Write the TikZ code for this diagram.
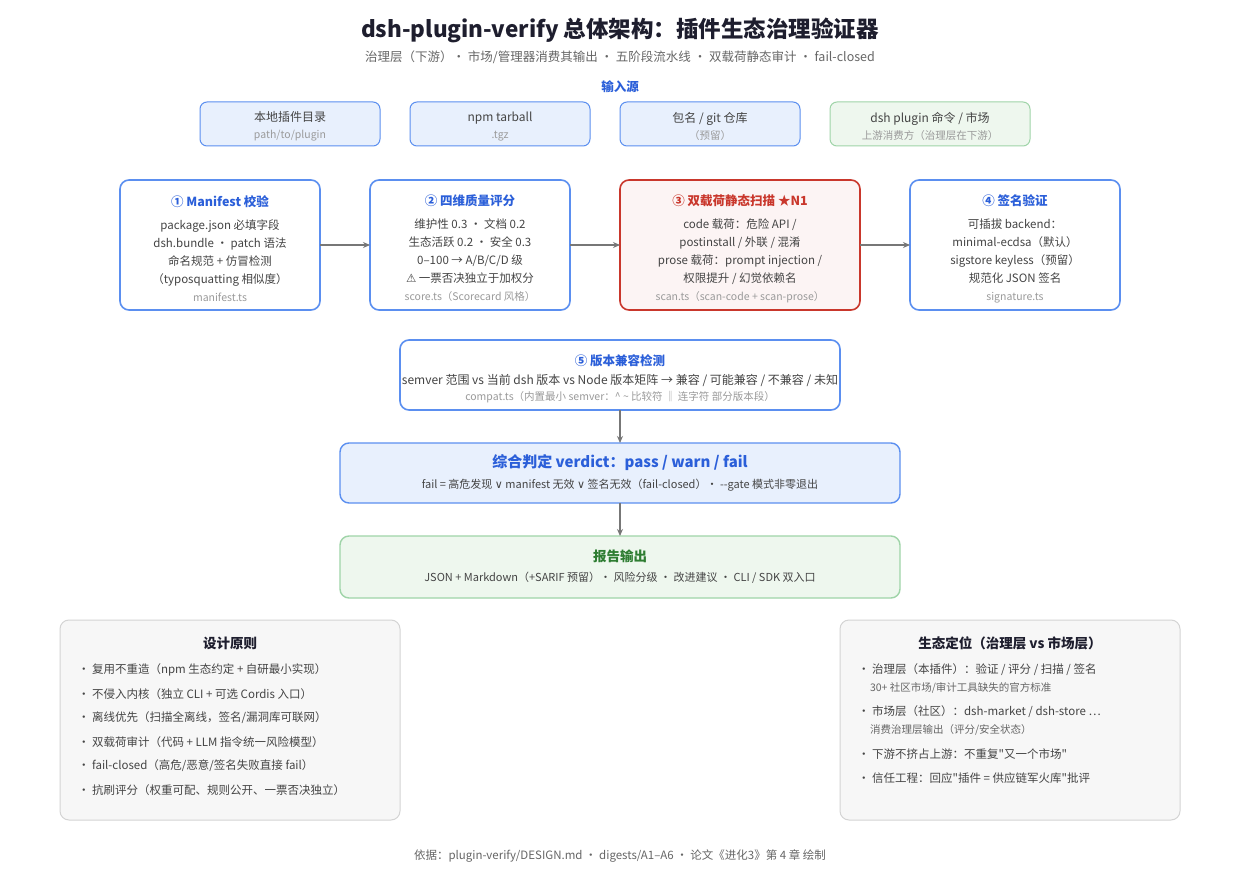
\documentclass[tikz,border=0pt]{standalone}
\usepackage{fontspec}
\setmainfont{Noto Sans CJK SC}[Ligatures=TeXOff]
\newfontfamily\dejavu{DejaVu Sans}
\usetikzlibrary{arrows.meta}

\definecolor{titleink}{HTML}{1E1E2E}
\definecolor{subink}{HTML}{666666}
\definecolor{bodyink}{HTML}{444444}
\definecolor{noteink}{HTML}{9A9A9A}
\definecolor{blueink}{HTML}{2B5FD9}
\definecolor{blueline}{HTML}{5B8FF0}
\definecolor{bluefill}{HTML}{E8F0FD}
\definecolor{redink}{HTML}{C9372C}
\definecolor{redfill}{HTML}{FCF4F4}
\definecolor{greenink}{HTML}{2E7D32}
\definecolor{greenline}{HTML}{9FD4A8}
\definecolor{greenfill}{HTML}{EEF7EE}
\definecolor{panelfill}{HTML}{F7F7F7}
\definecolor{panelline}{HTML}{D4D4D4}
\definecolor{arrowgray}{HTML}{777777}

\newcommand{\stagehead}[2][blueink]{{\fontsize{12.5}{18}\selectfont\bfseries\color{#1}\rule{0pt}{18pt}#2}}
\newcommand{\filenote}[1]{{\fontsize{10.5}{18}\selectfont\color{noteink}#1}}
\newcommand{\srcnote}[1]{{\fontsize{10.5}{17}\selectfont\color{noteink}#1}}

\begin{document}
\begin{tikzpicture}[
    x=1pt, y=-1pt,
    every node/.style={inner sep=0pt, outer sep=0pt},
    srcbox/.style={draw=blueline, fill=bluefill, line width=1pt, rounded corners=7pt,
        minimum width=180pt, minimum height=44pt, align=center,
        font=\fontsize{12}{17}\selectfont, text=bodyink},
    stagebox/.style={draw=blueline, fill=white, line width=1.6pt, rounded corners=9pt,
        minimum width=200pt, minimum height=130pt, align=center,
        font=\fontsize{11.5}{18}\selectfont, text=bodyink},
    widebox/.style={line width=1.4pt, rounded corners=9pt, minimum width=560pt,
        align=center, text=bodyink},
    panel/.style={draw=panelline, fill=panelfill, line width=1pt, rounded corners=9pt,
        minimum width=340pt, minimum height=200pt},
    panelhead/.style={font=\fontsize{13.5}{16}\selectfont\bfseries, text=titleink},
    item/.style={anchor=west, font=\fontsize{11.5}{14}\selectfont, text=bodyink},
    subitem/.style={anchor=west, font=\fontsize{10.5}{13}\selectfont, text=subink},
    flow/.style={-{Stealth[length=7pt,width=6pt]}, line width=1.1pt, draw=arrowgray}
]
\fill[white] (0,0) rectangle (1240,880);
\useasboundingbox (0,0) rectangle (1240,880);

% titolo
\node[font=\fontsize{22.5}{26}\selectfont\bfseries, text=titleink] (title) at (620,30)
    {dsh-plugin-verify 总体架构：插件生态治理验证器};
\node[font=\fontsize{12.5}{15}\selectfont, text=subink] (subtitle) at (620,57)
    {治理层（下游）· 市场/管理器消费其输出 · 五阶段流水线 · 双载荷静态审计 · fail-closed};

% sorgenti
\node[font=\fontsize{12.5}{15}\selectfont\bfseries, text=blueink] (inputs) at (620,87) {输入源};
\node[srcbox] (localdir) at (290,124) {\rule{0pt}{15pt}本地插件目录\\ \srcnote{path/to/plugin}};
\node[srcbox] (tarball) at (500,124) {\rule{0pt}{15pt}npm tarball\\ \srcnote{.tgz}};
\node[srcbox] (gitrepo) at (710,124) {\rule{0pt}{15pt}包名 / git 仓库\\ \srcnote{（预留）}};
\node[srcbox, draw=greenline, fill=greenfill, minimum width=200pt] (market) at (930,124)
    {\rule{0pt}{15pt}dsh plugin 命令 / 市场\\ \srcnote{上游消费方（治理层在下游）}};

% fasi 1-4
\node[stagebox] (manifest) at (220,245)
    {\stagehead{① Manifest 校验}\\[5pt]
     package.json 必填字段\\
     dsh.bundle · patch 语法\\
     命名规范 + 仿冒检测\\
     （typosquatting 相似度）\\
     \filenote{manifest.ts}};
\node[stagebox] (score) at (470,245)
    {\stagehead{② 四维质量评分}\\[5pt]
     维护性 0.3 · 文档 0.2\\
     生态活跃 0.2 · 安全 0.3\\
     0–100 → A/B/C/D 级\\
     {\dejavu ⚠} 一票否决独立于加权分\\
     \filenote{score.ts（Scorecard 风格）}};
\node[stagebox, draw=redink, fill=redfill, minimum width=240pt] (scan) at (740,245)
    {\stagehead[redink]{③ 双载荷静态扫描 ★N1}\\[5pt]
     code 载荷：危险 API /\\
     postinstall / 外联 / 混淆\\
     prose 载荷：prompt injection /\\
     权限提升 / 幻觉依赖名\\
     \filenote{scan.ts（scan-code + scan-prose）}};
\node[stagebox, minimum width=210pt] (signature) at (1015,245)
    {\stagehead{④ 签名验证}\\[5pt]
     可插拔 backend：\\
     minimal-ecdsa（默认）\\
     sigstore keyless（预留）\\
     规范化 JSON 签名\\
     \filenote{signature.ts}};

\draw[flow] (manifest) -- (score);
\draw[flow] (score) -- (scan);
\draw[flow] (scan) -- (signature);

% fase 5
\node[stagebox, minimum width=440pt, minimum height=70pt] (compat) at (620,375)
    {\stagehead{⑤ 版本兼容检测}\\[1pt]
     {\fontsize{12}{18}\selectfont semver 范围 vs 当前 dsh 版本 vs Node 版本矩阵 → 兼容 / 可能兼容 / 不兼容 / 未知}\\[-2pt]
     \filenote{compat.ts（内置最小 semver：\^{} \textasciitilde{} 比较符 ‖ 连字符 部分版本段）}};

% verdetto e rapporto
\node[widebox, draw=blueline, fill=bluefill, minimum height=60pt] (verdict) at (620,473)
    {{\fontsize{15}{18}\selectfont\bfseries\color{blueink}综合判定 verdict：pass / warn / fail}\\[8pt]
     {\fontsize{11}{14}\selectfont fail = 高危发现 {\dejavu ∨} manifest 无效 {\dejavu ∨} 签名无效（fail-closed）· --gate 模式非零退出}};
\node[widebox, draw=greenline, fill=greenfill, minimum height=62pt] (report) at (620,567)
    {{\fontsize{13.5}{16}\selectfont\bfseries\color{greenink}报告输出}\\[8pt]
     {\fontsize{11}{14}\selectfont JSON + Markdown（+SARIF 预留）· 风险分级 · 改进建议 · CLI / SDK 双入口}};

\draw[flow] (compat) -- (verdict);
\draw[flow] (verdict) -- (report);

% principi
\node[panel] (principles) at (230,720) {};
\node[panelhead] (principleshead) at (230,643) {设计原则};
\node[item] (p1) at (78,670) {· 复用不重造（npm 生态约定 + 自研最小实现）};
\node[item] (p2) at (78,694) {· 不侵入内核（独立 CLI + 可选 Cordis 入口）};
\node[item] (p3) at (78,718) {· 离线优先（扫描全离线，签名/漏洞库可联网）};
\node[item] (p4) at (78,742) {· 双载荷审计（代码 + LLM 指令统一风险模型）};
\node[item] (p5) at (78,766) {· fail-closed（高危/恶意/签名失败直接 fail）};
\node[item] (p6) at (78,790) {· 抗刷评分（权重可配、规则公开、一票否决独立）};

% ecosistema
\node[panel] (ecosystem) at (1010,720) {};
\node[panelhead] (ecosystemhead) at (1010,643) {生态定位（治理层 vs 市场层）};
\node[item] (e1) at (858,670) {· 治理层（本插件）：验证 / 评分 / 扫描 / 签名};
\node[subitem] (e1sub) at (870,688) {30+ 社区市场/审计工具缺失的官方标准};
\node[item] (e2) at (858,712) {· 市场层（社区）：dsh-market / dsh-store …};
\node[subitem] (e2sub) at (870,730) {消费治理层输出（评分/安全状态）};
\node[item] (e3) at (858,754) {· 下游不挤占上游：不重复"又一个市场"};
\node[item] (e4) at (858,778) {· 信任工程：回应"插件 = 供应链军火库"批评};

% fonte
\node[font=\fontsize{11.5}{14}\selectfont, text=subink] (source) at (620,856)
    {依据：plugin-verify/DESIGN.md · digests/A1–A6 · 论文《进化3》第 4 章 绘制};
\end{tikzpicture}
\end{document}
